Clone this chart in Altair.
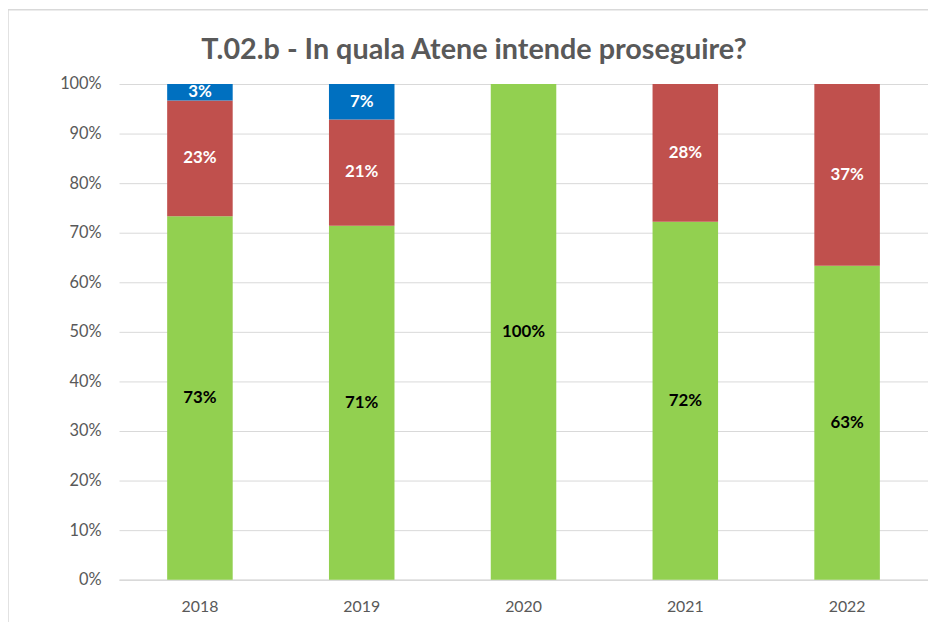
import altair as alt
import pandas as pd

years = ["2018", "2019", "2020", "2021", "2022"]
series = ["Serie 1", "Serie 2", "Serie 3"]
serie1 = [0.7333, 0.7143, 1.0, 0.7222, 0.6333]
serie2 = [0.2333, 0.2143, 0.0, 0.2778, 0.3667]
serie3 = [0.0333, 0.0714, 0.0, 0.0, 0.0]
colors = ["#92D050", "#C0504D", "#0070C0"]
label_colors = ["#000000", "#FFFFFF", "#FFFFFF"]
title_text = "T.02.b - In quala Atene intende proseguire?"

rows = []
for i, y in enumerate(years):
    for k, vals in enumerate([serie1, serie2, serie3]):
        rows.append({"anno": y, "serie": series[k], "ord": k, "valore": vals[i]})
df = pd.DataFrame(rows)

FONT = "Lato"
W, H = 816, 500
PL, PT = 112, 74

base = alt.Chart(df)

bars = base.mark_bar().encode(
    x=alt.X("anno:N", sort=years, title=None,
            scale=alt.Scale(paddingInner=0.595, paddingOuter=0.2975),
            axis=alt.Axis(labelAngle=0, labelFontSize=16, labelColor="#595959",
                          labelFont=FONT, labelPadding=19, ticks=False,
                          domainColor="#D9D9D9", domainWidth=1.5)),
    y=alt.Y("valore:Q", stack="zero", title=None,
            scale=alt.Scale(domain=[0, 1]),
            axis=alt.Axis(format=".0%", values=[i / 10 for i in range(11)],
                          labelFontSize=16.5, labelColor="#595959", labelFont=FONT,
                          labelPadding=18, ticks=False, domain=False,
                          gridColor="#D9D9D9", gridWidth=1)),
    color=alt.Color("serie:N", scale=alt.Scale(domain=series, range=colors), legend=None),
    order=alt.Order("ord:Q"),
)

labels = base.transform_filter("datum.valore > 0").transform_stack(
    stack="valore", groupby=["anno"], as_=["y0", "y1"],
    sort=[alt.SortField("ord", "ascending")]
).transform_calculate(mid="(datum.y0 + datum.y1) / 2").mark_text(
    fontWeight="bold", fontSize=17, font=FONT, baseline="middle"
).encode(
    x=alt.X("anno:N", sort=years),
    y=alt.Y("mid:Q"),
    text=alt.Text("valore:Q", format=".0%"),
    color=alt.Color("serie:N", scale=alt.Scale(domain=series, range=label_colors), legend=None),
)

frame = alt.Chart(pd.DataFrame({"a": [0]})).mark_rect(
    fill=None, stroke="#D9D9D9", strokeWidth=1.5
).encode(
    x=alt.value(-PL), x2=alt.value(W + 40),
    y=alt.value(-PT - 1), y2=alt.value(H + 80),
)

title = alt.Chart(pd.DataFrame({"t": [title_text]})).mark_text(
    fontSize=29, fontWeight="bold", color="#595959", font=FONT,
    align="center", baseline="alphabetic"
).encode(
    x=alt.value(478 - 8 - PL), y=alt.value(57 - 8 - PT), text="t:N",
)

chart = alt.layer(frame, bars, labels, title).resolve_scale(color="independent").properties(
    width=W, height=H,
    padding={"left": PL, "top": PT, "right": 0, "bottom": 40},
    autosize=alt.AutoSizeParams(type="none"),
).configure_view(stroke=None)

chart.save("out.html", embed_options={"renderer": "svg", "actions": False})
